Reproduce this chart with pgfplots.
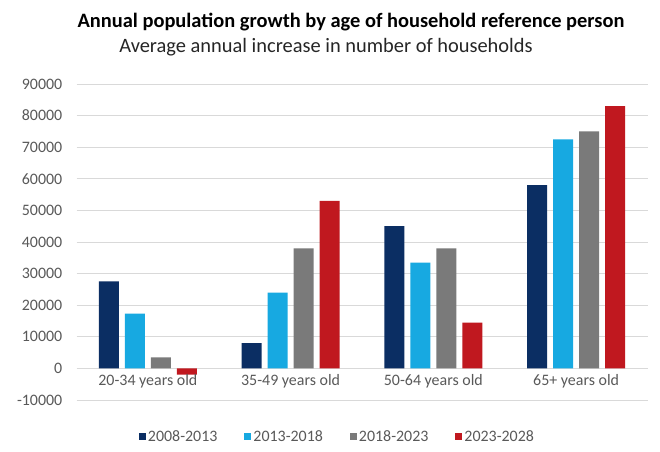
\documentclass[border=0pt]{standalone}
\usepackage{pgfplots}
\pgfplotsset{compat=1.18}
\usepackage{fontspec}
\setmainfont{Carlito}
\definecolor{navy}{HTML}{0B2E63}
\definecolor{lblue}{HTML}{17A9E1}
\definecolor{mgray}{HTML}{7A7A7A}
\definecolor{dred}{HTML}{C0181F}
\definecolor{gridc}{HTML}{D9D9D9}
\definecolor{txt}{HTML}{595959}
\begin{document}
\begin{tikzpicture}
\fill[white] (0,0) rectangle (660bp,452bp);
\useasboundingbox (0,0) rectangle (660bp,452bp);
\begin{axis}[
    at={(76.5bp,52bp)}, anchor=south west,
    scale only axis, width=571bp, height=316bp,
    ybar=6bp, bar width=20bp,
    xmin=-0.5, xmax=3.5,
    ymin=-10000, ymax=90000,
    ytick={-10000,0,...,90000},
    scaled y ticks=false,
    xtick=\empty,
    axis line style={draw=none},
    ymajorgrids, grid style={gridc, line width=0.8pt},
    major tick length=0pt,
    /pgf/number format/1000 sep={},
    /pgf/number format/assume math mode=true,
    yticklabel style={font=\fontsize{16}{18}\selectfont, text=txt, anchor=east, inner sep=0pt, xshift=-14bp},
    legend style={at={(0.457,-0.117)}, anchor=center, draw=none,
        legend columns=4, font=\fontsize{16}{18}\selectfont, text=txt,
        /tikz/every even column/.append style={column sep=25bp}},
    legend image code/.code={\fill[#1] (0bp,-3.5bp) rectangle (7bp,3.5bp);},
    ]
\addplot[fill=navy, draw=none] coordinates {(0,27500) (1,8000) (2,45000) (3,58000)};
\addplot[fill=lblue, draw=none] coordinates {(0,17300) (1,24000) (2,33500) (3,72500)};
\addplot[fill=mgray, draw=none] coordinates {(0,3500) (1,38000) (2,38000) (3,75000)};
\addplot[fill=dred, draw=none] coordinates {(0,-2000) (1,53000) (2,14500) (3,83000)};
\legend{2008-2013,2013-2018,2018-2023,2023-2028}
\foreach \i/\lab in {0/20-34 years old,1/35-49 years old,2/50-64 years old,3/65+ years old}{
  \edef\tmp{\noexpand\node[anchor=north, text=txt, font=\noexpand\fontsize{16}{18}\noexpand\selectfont, yshift=-3bp] at (axis cs:\i,0) {\lab};}
  \tmp
}
\end{axis}
\node[font=\fontsize{20.5}{24}\selectfont\bfseries] at (351bp,430bp) {Annual population growth by age of household reference person};
\node[font=\fontsize{20.5}{24}\selectfont, text=black!85] at (326bp,405bp) {Average annual increase in number of households};
\end{tikzpicture}
\end{document}
